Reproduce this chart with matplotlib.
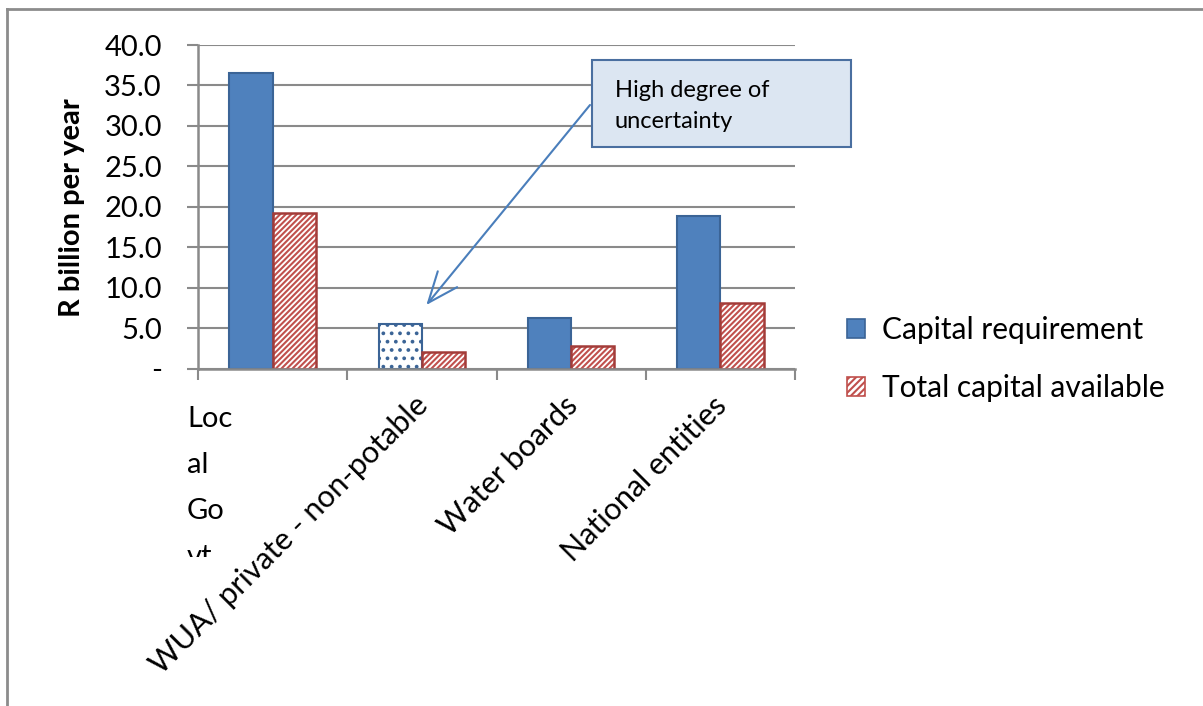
#!/usr/bin/env python3
import matplotlib
matplotlib.use('Agg')
import matplotlib.pyplot as plt
import matplotlib.transforms as mtransforms
from matplotlib.patches import Rectangle, Patch
from matplotlib.lines import Line2D

categories = ['Local Govt', 'WUA/ private - non-potable', 'Water boards', 'National entities']
first_label_wrapped = 'Loc\nal\nGo\nvt'
capital_requirement = [36.5, 5.5, 6.3, 18.9]
capital_available = [19.2, 2.1, 2.9, 8.2]
series_labels = ['Capital requirement', 'Total capital available']
yticks = [0, 5, 10, 15, 20, 25, 30, 35, 40]
ytick_labels = ['-', '5.0', '10.0', '15.0', '20.0', '25.0', '30.0', '35.0', '40.0']

plt.rcParams['font.family'] = ['Lato', 'DejaVu Sans']
plt.rcParams['hatch.linewidth'] = 1.5

blue = '#4f81bd'
blue_edge = '#3b6496'
red_hatch = '#c0504d'
red_edge = '#a33c39'
grid_col = '#8a8a8a'
fs = 21

W, H = 1203, 706
fig = plt.figure(figsize=(W / 100, H / 100), dpi=100)
ax = fig.add_axes([198 / W, 1 - 369 / H, (795 - 198) / W, (369 - 45) / H])

n = len(categories)
xs = list(range(n))
bw = 0.29
for i in xs:
    if i == 1:
        # uncertain value drawn dotted
        plt.rcParams['hatch.color'] = '#7ea3d3'
        ax.bar(i - bw / 2, capital_requirement[i], bw, facecolor='white',
               edgecolor=blue_edge, hatch='..', linewidth=1.5, zorder=3)
    else:
        ax.bar(i - bw / 2, capital_requirement[i], bw, color=blue,
               edgecolor=blue_edge, linewidth=1.5, zorder=3)
red_bars = ax.bar([x + bw / 2 for x in xs], capital_available, bw, facecolor='white',
                  edgecolor=red_hatch, hatch='//////', linewidth=0, zorder=3)
for b in red_bars:
    ax.add_patch(Rectangle(b.get_xy(), b.get_width(), b.get_height(), fill=False,
                           edgecolor=red_edge, linewidth=1.8, zorder=4))

ax.set_xlim(-0.5, n - 0.5)
ax.set_ylim(0, 40)
ax.set_yticks(yticks)
ax.set_yticklabels(ytick_labels, fontsize=fs)
ax.yaxis.grid(True, color=grid_col, linewidth=1.5, zorder=0)
ax.set_axisbelow(True)
for s in ['top', 'right']:
    ax.spines[s].set_visible(False)
for s in ['left', 'bottom']:
    ax.spines[s].set_color(grid_col)
    ax.spines[s].set_linewidth(1.8)
ax.spines['bottom'].set_zorder(5)
ax.tick_params(axis='y', length=8, width=1.5, color=grid_col, pad=18)

ax.set_xticks([x - 0.5 for x in range(n + 1)], minor=True)
ax.tick_params(axis='x', which='minor', length=8, width=1.5, color=grid_col)
ax.set_xticks(xs)
ax.set_xticklabels([''] + categories[1:], fontsize=22, rotation=45, ha='right',
                   rotation_mode='anchor')
ax.tick_params(axis='x', which='major', length=0, pad=16)
for lbl in ax.get_xticklabels()[1:]:
    lbl.set_transform(lbl.get_transform() + mtransforms.ScaledTranslation(-0.08, 0.0, fig.dpi_scale_trans))

# first category label is wrapped and cut off like in the source chart
t = fig.text(187 / W, 1 - 406 / H, first_label_wrapped, fontsize=fs, ha='left', va='top',
             linespacing=1.96)
t.set_clip_on(True)
t.set_clip_path(Rectangle((0, 1 - 557 / H), 1, 557 / H, transform=fig.transFigure))

fig.text(72 / W, 1 - 208 / H, 'R billion per year', rotation=90, fontsize=21,
         fontweight='bold', ha='center', va='center')

# annotation box
fig.patches.append(Rectangle((592 / W, 1 - 147 / H), (851 - 592) / W, (147 - 60) / H,
                             transform=fig.transFigure, facecolor='#dce6f2',
                             edgecolor='#4a6fa0', linewidth=1.5, zorder=6))
fig.text(615 / W, 1 - 106 / H, 'High degree of\nuncertainty', fontsize=17,
         ha='left', va='center', linespacing=1.55, zorder=7)
ax.annotate('', xy=(1.03, 7.9), xycoords='data',
            xytext=(590 / W, 1 - 105 / H), textcoords='figure fraction',
            arrowprops=dict(arrowstyle='->,head_length=1.1,head_width=0.45',
                            color='#4a7ebb', lw=1.5, mutation_scale=20,
                            shrinkA=0, shrinkB=0), zorder=5)

handles = [Patch(facecolor=blue, edgecolor=blue_edge, linewidth=1.2),
           Patch(facecolor='white', edgecolor=red_hatch, hatch='/////', linewidth=1.2)]
fig.legend(handles, series_labels, loc='center left', bbox_to_anchor=(820 / W, 1 - 359 / H),
           frameon=False, fontsize=21.5, handlelength=0.62, handleheight=0.62,
           handletextpad=0.55, labelspacing=1.0)

# outer frame
fig.add_artist(Line2D([7 / W, 7 / W], [0, 1 - 9 / H], transform=fig.transFigure,
                      color='#8c8c8c', linewidth=2))
fig.add_artist(Line2D([7 / W, 1], [1 - 9 / H, 1 - 9 / H], transform=fig.transFigure,
                      color='#8c8c8c', linewidth=2))

fig.savefig('out.png', dpi=100)
